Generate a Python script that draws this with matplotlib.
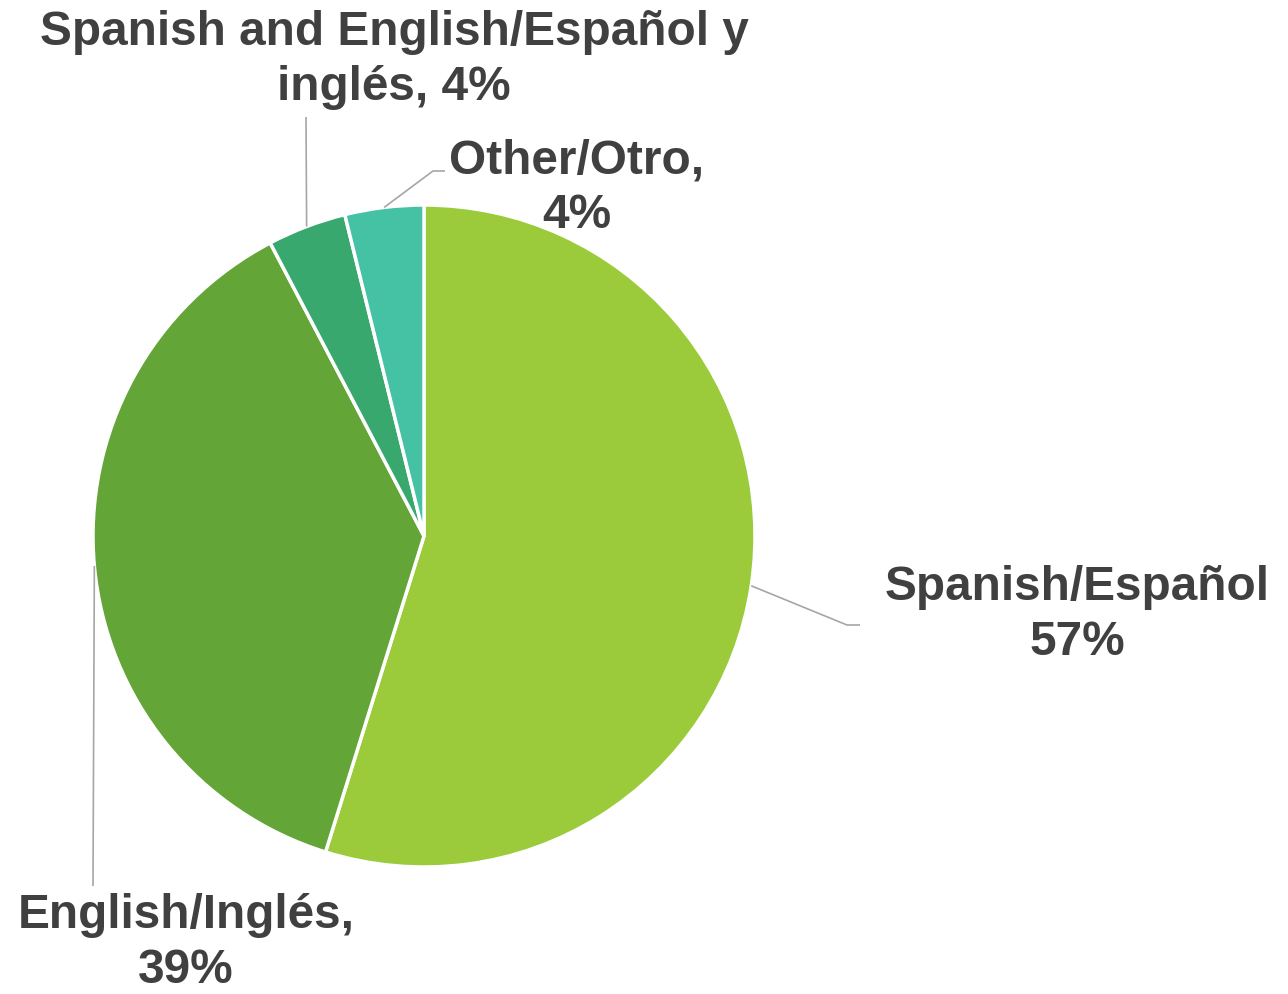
import numpy as np
import matplotlib.pyplot as plt

# --- DATA ---
labels = ["Spanish/Español\n57%",
          "English/Inglés,\n39%",
          "Spanish and English/Español y\ninglés, 4%",
          "Other/Otro,\n4%"]
values = [57, 39, 4, 4]
colors = ["#9BCB3B", "#63A537", "#38A86E", "#45C1A4"]

# --- LAYOUT (pixel coords, y measured from top) ---
W, H = 1288, 995
center = (424, 537)
radius = 331
# baseline position of each label's last line
label_pos = [(1077, 655), (186, 983), (394, 100), (577, 228)]
# elbow points of each leader line after it leaves the wedge
leader_elbows = [[(847, 626), (860, 626)],
                 [(93, 887)],
                 [(306, 118)],
                 [(433, 172), (445, 172)]]

TEXT = "#404040"
LEADER = "#A6A6A6"

plt.rcParams['font.family'] = ['Liberation Sans', 'DejaVu Sans']

fig = plt.figure(figsize=(W / 100, H / 100), dpi=100)
ax = fig.add_axes([0, 0, 1, 1])

def flip(p):
    return (p[0], H - p[1])

wedges, _ = ax.pie(values, colors=colors, startangle=90, counterclock=False,
                   center=flip(center), radius=radius,
                   wedgeprops=dict(edgecolor="white", linewidth=2.5))

# pie() resets the view, so set the pixel frame afterwards
ax.set_xlim(0, W)
ax.set_ylim(0, H)
ax.set_aspect('equal')
ax.axis('off')

for w, lab, pos, elbows in zip(wedges, labels, label_pos, leader_elbows):
    mid = np.deg2rad((w.theta1 + w.theta2) / 2)
    cx, cy = flip(center)
    start = (cx + radius * np.cos(mid), cy + radius * np.sin(mid))
    pts = [start] + [flip(e) for e in elbows]
    xs, ys = zip(*pts)
    ax.plot(xs, ys, color=LEADER, lw=1.2, solid_capstyle='butt', zorder=1)
    x, y = flip(pos)
    ax.text(x, y, lab, ha='center', va='baseline', multialignment='center',
            fontsize=34.4, fontweight='bold', color=TEXT, linespacing=1.28)

fig.savefig("out.png", dpi=100)
